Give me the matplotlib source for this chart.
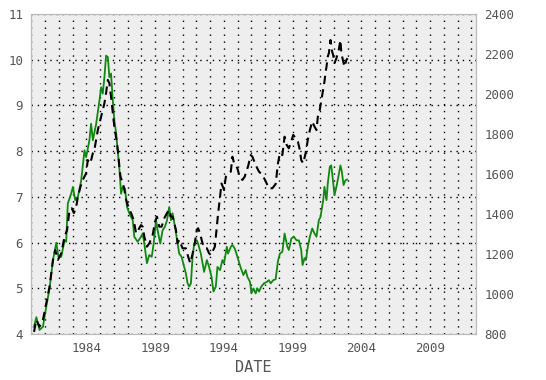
import numpy as np
import matplotlib
matplotlib.use('Agg')
import matplotlib.pyplot as plt
from matplotlib.ticker import MultipleLocator, FixedLocator

# green series (left axis): decimal year, value
g_t = [1980.19, 1980.36, 1980.59, 1980.84, 1981.08, 1981.32, 1981.57, 1981.81, 1981.97, 1982.17,
       1982.41, 1982.53, 1982.65, 1982.89, 1983.02, 1983.18, 1983.38, 1983.62, 1983.86, 1983.98,
       1984.22, 1984.34, 1984.47, 1984.71, 1984.95, 1985.07, 1985.19, 1985.31, 1985.43, 1985.56,
       1985.67, 1985.79, 1985.92, 1986.03, 1986.16, 1986.40, 1986.52, 1986.64, 1986.81, 1986.95,
       1987.12, 1987.37, 1987.48, 1987.73, 1987.97, 1988.09, 1988.21, 1988.40, 1988.57, 1988.75,
       1988.89, 1989.06, 1989.18, 1989.37, 1989.54, 1989.71, 1989.86, 1990.02, 1990.15, 1990.27,
       1990.44, 1990.63, 1990.75, 1990.92, 1991.11, 1991.23, 1991.36, 1991.47, 1991.60, 1991.72,
       1991.84, 1992.03, 1992.12, 1992.32, 1992.56, 1992.76, 1992.92, 1993.10, 1993.24, 1993.41,
       1993.53, 1993.72, 1993.89, 1994.01, 1994.21, 1994.30, 1994.50, 1994.62, 1994.79, 1994.98,
       1995.22, 1995.42, 1995.58, 1995.71, 1995.90, 1996.00, 1996.14, 1996.31, 1996.43, 1996.55,
       1996.72, 1996.91, 1997.11, 1997.27, 1997.40, 1997.59, 1997.76, 1997.93, 1998.07, 1998.25,
       1998.41, 1998.61, 1998.72, 1998.90, 1999.09, 1999.28, 1999.45, 1999.62, 1999.72, 1999.86,
       1999.96, 2000.10, 2000.25, 2000.42, 2000.59, 2000.73, 2000.90, 2001.02, 2001.22, 2001.31,
       2001.46, 2001.55, 2001.70, 2001.80, 2001.90, 2002.04, 2002.18, 2002.32, 2002.47, 2002.56,
       2002.70, 2002.83, 2002.95]
g_v = [4.16, 4.37, 4.09, 4.16, 4.60, 5.00, 5.62, 6.00, 5.69, 5.69,
       6.05, 6.02, 6.86, 7.07, 7.22, 6.93, 7.00, 7.36, 8.02, 7.87,
       8.24, 8.60, 8.24, 8.60, 9.11, 9.40, 9.26, 9.62, 10.09, 10.06,
       9.62, 9.70, 9.11, 8.67, 8.40, 7.60, 7.07, 7.22, 7.18, 6.78,
       6.64, 6.49, 6.13, 6.02, 6.13, 6.20, 5.98, 5.55, 5.73, 5.69,
       5.98, 6.49, 6.27, 5.98, 6.27, 6.35, 6.49, 6.78, 6.49, 6.64,
       6.35, 5.98, 5.76, 5.69, 5.47, 5.33, 5.11, 5.04, 5.11, 5.69,
       5.98, 6.05, 5.98, 5.76, 5.36, 5.62, 5.47, 5.25, 4.93, 5.04,
       5.47, 5.40, 5.62, 5.55, 5.91, 5.76, 5.91, 5.95, 5.87, 5.69,
       5.45, 5.29, 5.40, 5.25, 5.14, 4.89, 5.00, 4.89, 5.00, 4.93,
       5.04, 5.11, 5.14, 5.18, 5.11, 5.18, 5.20, 5.60, 5.76, 5.80,
       6.20, 5.91, 5.84, 6.09, 6.13, 6.05, 6.05, 5.84, 5.51, 5.66,
       5.62, 5.91, 6.13, 6.31, 6.20, 6.13, 6.49, 6.56, 6.93, 7.22,
       6.93, 7.29, 7.66, 7.69, 7.44, 7.04, 7.22, 7.44, 7.69, 7.58,
       7.26, 7.36, 7.38]

# black dashed series (right axis)
k_t = [1980.19, 1980.36, 1980.59, 1980.84, 1981.08, 1981.32, 1981.57, 1981.73, 1981.93, 1982.17,
       1982.41, 1982.60, 1982.77, 1982.94, 1983.09, 1983.26, 1983.38, 1983.57, 1983.74, 1983.98,
       1984.10, 1984.29, 1984.47, 1984.58, 1984.71, 1984.83, 1984.95, 1985.07, 1985.19, 1985.31,
       1985.43, 1985.56, 1985.67, 1985.79, 1985.92, 1986.03, 1986.23, 1986.33, 1986.47, 1986.72,
       1986.89, 1987.12, 1987.25, 1987.44, 1987.61, 1987.78, 1987.97, 1988.09, 1988.21, 1988.40,
       1988.57, 1988.82, 1988.99, 1989.13, 1989.30, 1989.47, 1989.66, 1989.86, 1990.02, 1990.15,
       1990.27, 1990.51, 1990.63, 1990.75, 1990.99, 1991.23, 1991.40, 1991.55, 1991.67, 1991.84,
       1992.03, 1992.12, 1992.26, 1992.44, 1992.61, 1992.76, 1992.92, 1993.05, 1993.17, 1993.34,
       1993.48, 1993.58, 1993.72, 1993.82, 1993.92, 1994.01, 1994.14, 1994.26, 1994.37, 1994.50,
       1994.62, 1994.74, 1994.98, 1995.17, 1995.35, 1995.51, 1995.66, 1995.75, 1995.95, 1996.07,
       1996.31, 1996.55, 1996.80, 1997.04, 1997.27, 1997.52, 1997.76, 1997.93, 1998.07, 1998.25,
       1998.41, 1998.56, 1998.72, 1998.85, 1999.04, 1999.21, 1999.38, 1999.52, 1999.62, 1999.77,
       1999.94, 2000.10, 2000.25, 2000.42, 2000.59, 2000.73, 2000.83, 2000.97, 2001.07, 2001.22,
       2001.31, 2001.38, 2001.46, 2001.55, 2001.63, 2001.75, 2001.87, 2001.94, 2002.04, 2002.18,
       2002.35, 2002.47, 2002.54, 2002.67, 2002.76, 2002.91, 2003.00]
k_v = [811, 871, 837, 871, 953, 1037, 1171, 1220, 1171, 1204,
       1287, 1321, 1421, 1429, 1405, 1437, 1487, 1537, 1571, 1604,
       1670, 1654, 1705, 1721, 1771, 1820, 1853, 1887, 1921, 1954,
       2005, 2071, 2054, 1987, 1904, 1837, 1754, 1687, 1590, 1537,
       1471, 1421, 1405, 1370, 1304, 1321, 1345, 1337, 1287, 1237,
       1253, 1296, 1362, 1387, 1337, 1337, 1379, 1405, 1421, 1387,
       1387, 1321, 1255, 1271, 1229, 1229, 1187, 1155, 1187, 1237,
       1321, 1329, 1304, 1255, 1229, 1229, 1204, 1195, 1212, 1237,
       1337, 1405, 1487, 1553, 1537, 1520, 1587, 1596, 1604, 1612,
       1687, 1654, 1629, 1579, 1571, 1587, 1621, 1637, 1695, 1687,
       1645, 1612, 1596, 1563, 1529, 1529, 1550, 1654, 1705, 1695,
       1787, 1746, 1729, 1754, 1796, 1779, 1762, 1721, 1670, 1654,
       1705, 1771, 1820, 1863, 1837, 1820, 1887, 1921, 1962, 2021,
       2062, 2104, 2137, 2187, 2204, 2270, 2212, 2196, 2155, 2179,
       2221, 2270, 2204, 2163, 2137, 2171, 2179]

year_ticks = [1984, 1989, 1994, 1999, 2004, 2009]

plt.rcParams['font.family'] = 'DejaVu Sans Mono'
txt = '#555555'

fig = plt.figure(figsize=(5.46, 3.80), dpi=100, facecolor='w')
ax = fig.add_axes([0.0575, 0.1208, 0.8143, 0.8422])
ax.set_facecolor('#eeeeee')
ax.plot(g_t, g_v, color='#118811', lw=1.3)
ax.set_xlim(1980.0, 2012.33)
ax.set_ylim(4, 11)
ax.xaxis.set_major_locator(FixedLocator(year_ticks))
ax.xaxis.set_minor_locator(MultipleLocator(1))
ax.yaxis.set_major_locator(MultipleLocator(1))
ax.grid(which='both', axis='x', color='k', lw=1, dashes=(1, 4))
ax.grid(which='major', axis='y', color='k', lw=1, dashes=(1, 3.5))
ax.set_axisbelow(True)
ax.tick_params(which='both', length=0, colors=txt, labelsize=9, pad=6)
ax.set_xlabel('DATE', color=txt, fontsize=11, labelpad=3)
for s in ax.spines.values():
    s.set_color('#bbbbbb')

ax2 = ax.twinx()
ax2.plot(k_t, k_v, color='k', lw=1.5, dashes=(4, 2.5))
ax2.set_ylim(800, 2400)
ax2.yaxis.set_major_locator(MultipleLocator(200))
ax2.tick_params(length=0, colors=txt, labelsize=9, pad=6)
for s in ax2.spines.values():
    s.set_color('#bbbbbb')

plt.savefig('out.png', dpi=100)
